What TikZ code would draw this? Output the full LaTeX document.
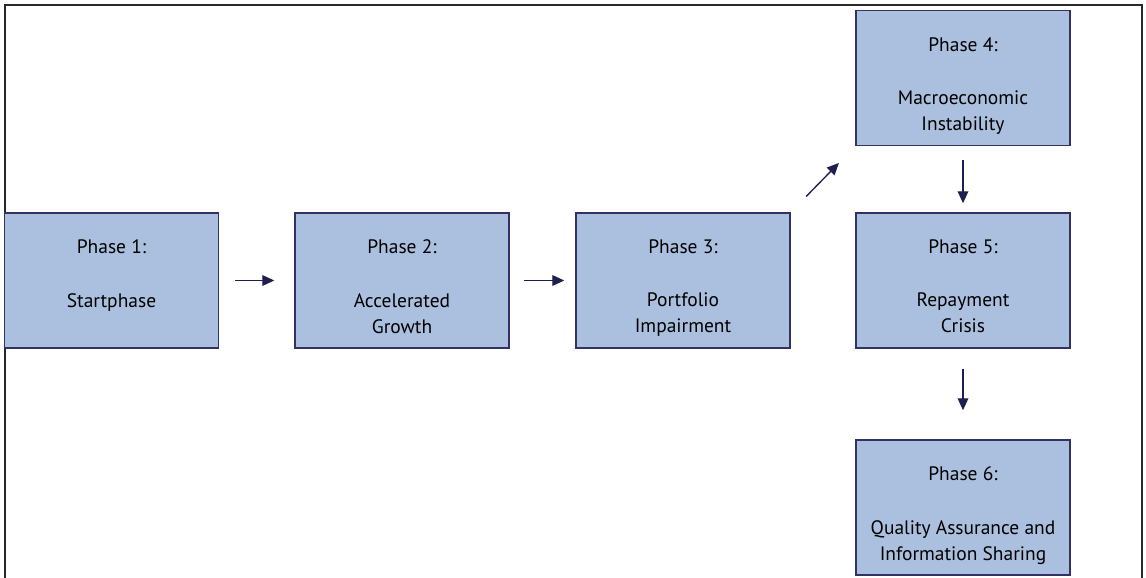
\documentclass[tikz,border=0pt]{standalone}
\usepackage{fontspec}
\setmainfont{PT Sans}
\usetikzlibrary{arrows.meta,positioning}
\definecolor{phasefill}{RGB}{171,192,222}
\definecolor{phaseline}{RGB}{50,50,100}
\definecolor{arrownavy}{RGB}{30,30,80}
\definecolor{framegray}{RGB}{40,40,40}
\newcommand\phasebox[1]{\parbox[c][61pt][t]{155pt}{\centering\fontsize{14.6}{19.5}\selectfont #1}}

\begin{document}
\begin{tikzpicture}[x=0.75pt, y=-0.75pt,
    phase/.style={draw=phaseline, line width=1.1pt, fill=phasefill,
        minimum width=160.5pt, minimum height=101.25pt, inner sep=0pt},
    flow/.style={draw=arrownavy, line width=1pt,
        -{Triangle[length=9pt,width=8pt]}}]
    \useasboundingbox (0, 0) rectangle (1146, 578);
    % outer frame, open at the bottom
    \draw[framegray, line width=2.2pt]
    (5, 578) -- (5, 5) -- (1142, 5) -- (1142, 578);
    % phases
    \node[phase] (p1) at (111.5, 280.5) {\phasebox{Phase 1:\\[20.5pt]Startphase}};
    \node[phase] (p2) at (402, 280.5) {\phasebox{Phase 2:\\[20.5pt]Accelerated\\Growth}};
    \node[phase] (p3) at (683, 280.5) {\phasebox{Phase 3:\\[20.5pt]Portfolio\\Impairment}};
    \node[phase] (p4) at (963, 78) {\phasebox{Phase 4:\\[20.5pt]Macroeconomic\\Instability}};
    \node[phase] (p5) at (963, 280.5) {\phasebox{Phase 5:\\[20.5pt]Repayment\\Crisis}};
    \node[phase] (p6) at (963, 507.5) {\phasebox{Phase 6:\\[20.5pt]Quality Assurance and\\Information Sharing}};
    % arrows
    \draw[flow, shorten <=12pt, shorten >=15pt] (p1) -- (p2);
    \draw[flow, shorten <=10.5pt, shorten >=8.25pt] (p2) -- (p3);
    \draw[flow, shorten <=16.5pt, shorten >=17.5pt] (p3.north east) -- (p4.south west);
    \draw[flow, shorten <=10.5pt, shorten >=6.75pt] (p4) -- (p5);
    \draw[flow, shorten <=15pt, shorten >=21.75pt] (p5) -- (p6);
\end{tikzpicture}
\end{document}
